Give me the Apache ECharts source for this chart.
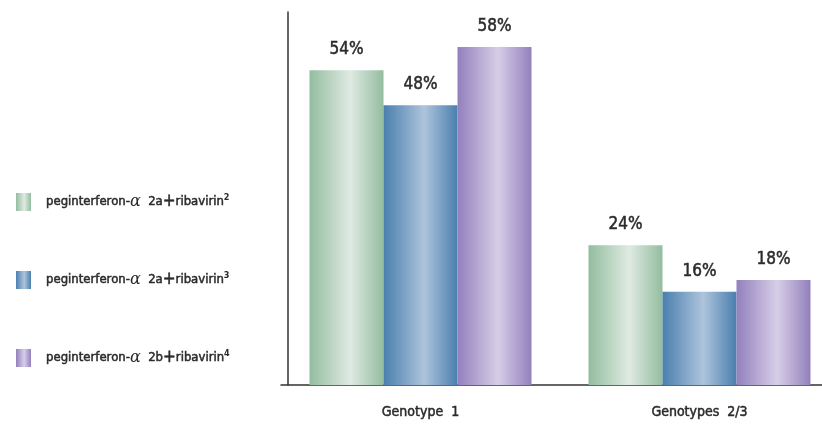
<!DOCTYPE html>
<html><head><meta charset="utf-8">
<script src="https://cdn.jsdelivr.net/npm/echarts@6/dist/echarts.min.js"></script>
<style>html,body{margin:0;padding:0;background:#fff}#c{width:822px;height:424px}</style>
</head><body><div id="c"></div>
<script>
const categories = ['Genotype  1', 'Genotypes  2/3'];
const seriesNames = ['peginterferon-α 2a+ribavirin²', 'peginterferon-α 2a+ribavirin³', 'peginterferon-α 2b+ribavirin⁴'];
const seriesValues = [
  [54, 24],
  [48, 16],
  [58, 18]
];
const legendParts = [
  ['2a', '2'],
  ['2a', '3'],
  ['2b', '4']
];
const palettes = [
  ['#93bd9f', '#dfeae2'],
  ['#4a7fae', '#aec4dc'],
  ['#9380bd', '#d6cee7']
];
function grad(p){
  return new echarts.graphic.LinearGradient(0,0,1,0,[
    {offset:0,color:p[0]},{offset:0.55,color:p[1]},{offset:1,color:p[0]}
  ]);
}
const font = "'DejaVu Sans Condensed','DejaVu Sans',sans-serif";
const ink = '#2b2b2b';
const bolden = {textBorderColor:ink,textBorderWidth:0.5};
const chart = echarts.init(document.getElementById('c'));
chart.setOption({
  animation:false,
  grid:{left:281,width:558,top:12,bottom:39,containLabel:false,outerBoundsMode:'none'},
  legend:{
    orient:'vertical',left:11,top:188,itemWidth:15,itemHeight:18,itemGap:60,
    icon:'rect',
    formatter:function(name){
      const i = seriesNames.indexOf(name);
      return '{f|peginterferon-}{g|α}{t|  '+legendParts[i][0]+'}{p|+}{t|ribavirin}{s|'+legendParts[i][1]+'}';
    },
    textStyle:{
      rich:{
        f:Object.assign({fontFamily:font,fontSize:13,color:ink,padding:[0,0,0,10]},bolden),
        t:Object.assign({fontFamily:font,fontSize:13,color:ink},bolden),
        g:{fontFamily:"'DejaVu Serif',serif",fontSize:16,fontStyle:'italic',color:ink},
        p:Object.assign({fontFamily:font,fontSize:17,color:ink},bolden),
        s:{fontFamily:font,fontSize:9,color:ink,fontWeight:'bold',verticalAlign:'top',padding:[0,0,8,0]}
      }
    },
    data:seriesNames
  },
  xAxis:{
    type:'category',data:categories,
    axisLine:{lineStyle:{color:'#333',width:1.5}},
    axisTick:{show:false},
    axisLabel:Object.assign({fontFamily:font,fontSize:14,color:ink,margin:20},bolden)
  },
  yAxis:{
    type:'value',min:0,max:64,offset:-7,
    axisLine:{show:true,lineStyle:{color:'#333',width:1.5}},
    axisTick:{show:false},axisLabel:{show:false},splitLine:{show:false}
  },
  series:seriesValues.map((v,i)=>({
    type:'bar',name:seriesNames[i],data:v,barWidth:74,barGap:'0%',
    itemStyle:{color:grad(palettes[i])},
    label:Object.assign({show:true,position:'top',distance:12,formatter:'{c}%',
      fontFamily:font,fontSize:17,color:ink},bolden)
  }))
});
</script></body></html>
